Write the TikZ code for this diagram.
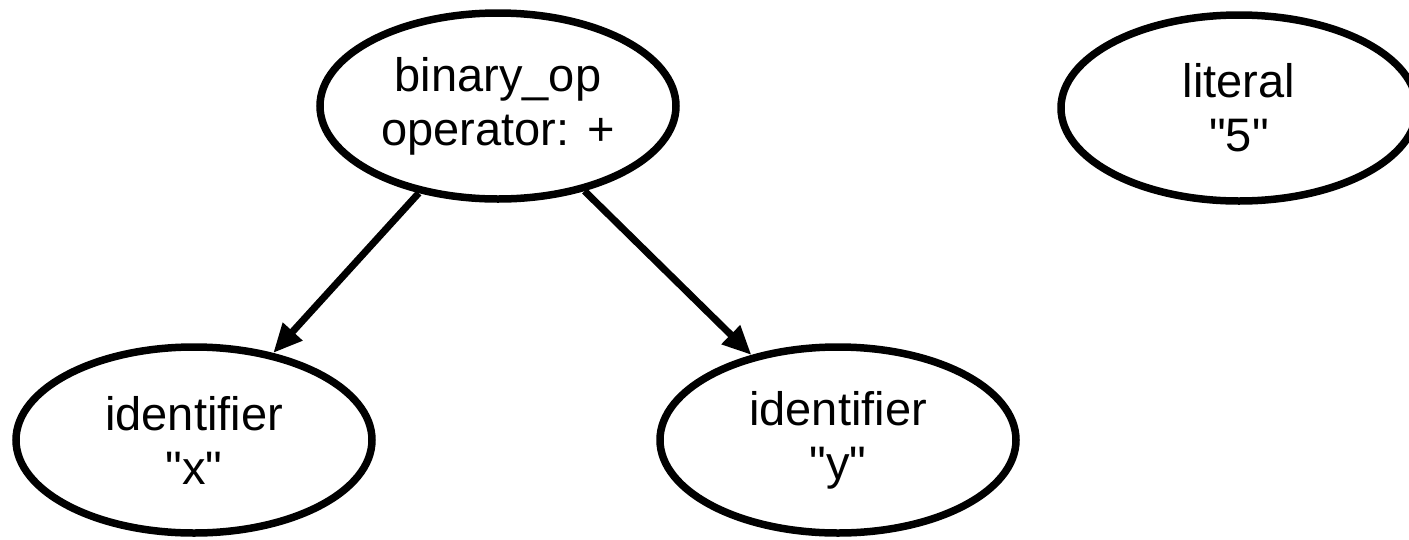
\documentclass[tikz,border=0pt]{standalone}
\usepackage{fontspec}
\setmainfont{Liberation Sans}[Ligatures=TeXOff]
\usetikzlibrary{shapes.geometric,arrows.meta}
\begin{document}
\begin{tikzpicture}[x=1pt,y=-1pt,
  astnode/.style={ellipse,draw,line width=7.5pt,minimum width=356pt,minimum height=186pt,
    inner sep=0pt,align=center,font=\fontsize{47}{54}\selectfont},
  edge/.style={line width=7pt,-{Triangle[length=29pt,width=25pt]}}]
\useasboundingbox (0,0) rectangle (1409,539);
\node[astnode] (bin) at (498,106) {binary\_op\\operator: +};
\node[astnode] (lit) at (1239,108) {literal\\"5"};
\node[astnode] (idx) at (194,440) {identifier\\"x"};
\node[astnode] (idy) at (838,440) {identifier\\"y"};
\draw[edge] (bin) -- (idx);
\draw[edge] (bin) -- (idy);
\end{tikzpicture}
\end{document}
